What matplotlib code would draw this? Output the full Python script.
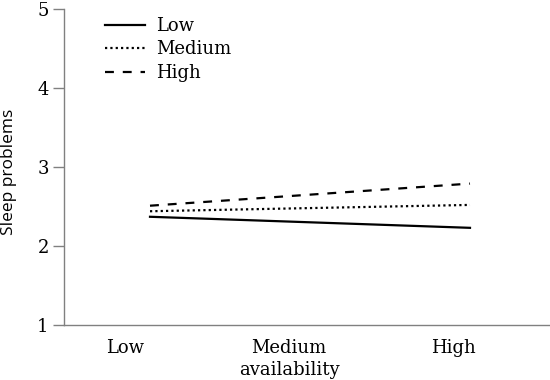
import matplotlib
matplotlib.use("Agg")
import matplotlib.pyplot as plt
import matplotlib.transforms as mtransforms

categories = ["Low", "Medium", "High"]
low_values = [2.37, 2.30, 2.23]
medium_values = [2.44, 2.48, 2.52]
high_values = [2.51, 2.65, 2.79]
series_names = ["Low", "Medium", "High"]
yticks = [1, 2, 3, 4, 5]
x_label = "availability"
y_label = "Sleep problems"

SERIF = ["DejaVu Serif"]
SANS = ["Open Sans", "DejaVu Sans"]
FS = 13

fig = plt.figure(figsize=(5.5, 3.8), dpi=100)
ax = fig.add_axes([64 / 550, 55 / 380, 486 / 550, 316 / 380])

x = list(range(len(categories)))
ax.plot(x, low_values, color="black", lw=1.6, linestyle="-", label=series_names[0])
ax.plot(x, medium_values, color="black", lw=1.6, linestyle=(0, (1, 1.4)), label=series_names[1])
ax.plot(x, high_values, color="black", lw=1.6, linestyle=(0, (4.0, 4.0)), label=series_names[2])

ax.set_xlim(-0.5375, 2.5)
ax.set_ylim(1, 5)
ax.set_yticks(yticks)
ax.set_yticklabels([str(v) for v in yticks], family=SERIF, fontsize=FS)
ax.set_xticks(x)
ax.set_xticklabels(categories, family=SERIF, fontsize=FS)
ax.tick_params(axis="x", length=0, pad=10)
ax.tick_params(axis="y", length=8, width=1, color="#808080", pad=3)
# category labels sit slightly left of the plotted points in the original
label_shift_px = [-25, -21, -17]
for lbl, dx in zip(ax.get_xticklabels(), label_shift_px):
    off = mtransforms.ScaledTranslation(dx / 100, 0, fig.dpi_scale_trans)
    lbl.set_transform(lbl.get_transform() + off)

for s in ["top", "right"]:
    ax.spines[s].set_visible(False)
for s in ["left", "bottom"]:
    ax.spines[s].set_color("#808080")
    ax.spines[s].set_linewidth(1)

ax.set_xlabel(x_label, family=SERIF, fontsize=FS)
ax.xaxis.set_label_coords((289 - 64) / 486, (325 - 375) / 316)
ax.xaxis.label.set_va("baseline")
ax.set_ylabel(y_label, family=SANS, fontsize=12.5)
ax.yaxis.set_label_coords((9 - 64) / 486, (325 - 172) / 316)
ax.yaxis.label.set_va("center")

leg = fig.legend(loc="upper left", bbox_to_anchor=(105 / 550, (380 - 17) / 380),
                 frameon=False, prop={"family": SERIF, "size": FS},
                 handlelength=2.2, handletextpad=0.65, labelspacing=0.3,
                 borderpad=0, borderaxespad=0)

fig.savefig("out.png", dpi=100)
